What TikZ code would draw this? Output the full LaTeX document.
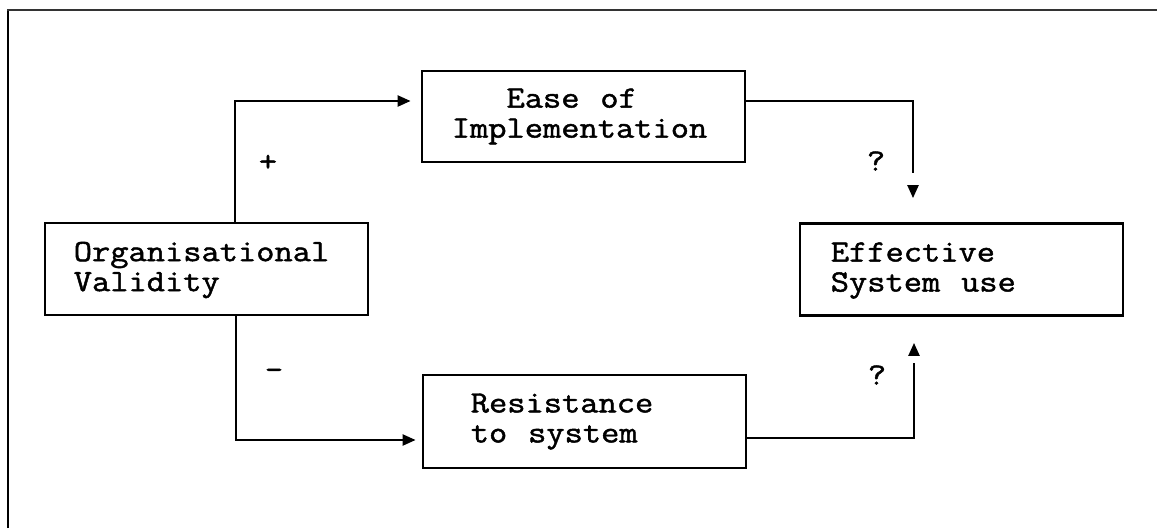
\documentclass[tikz,border=0pt]{standalone}
\usepackage{fontspec}
% typewriter face, widened to a Courier-like pitch
\newfontfamily\boxfont[FakeStretch=1.143, FakeBold=1.5, WordSpace={1.143,0,0}]{Latin Modern Mono}
\usetikzlibrary{arrows.meta}
\begin{document}
\begin{tikzpicture}[x=1pt,y=-1pt,
  box/.style={draw, line width=2.8pt, inner sep=0pt, minimum height=92pt, minimum width=323pt},
  txt/.style={anchor=west, inner sep=0pt, align=left, font=\boxfont\fontsize{31}{30}\selectfont},
  link/.style={line width=2.3pt},
  tip/.style={line width=2.3pt, -{Triangle[length=13pt,width=11pt]}},
  sign/.style={font=\boxfont\fontsize{31}{30}\selectfont, inner sep=0pt}]
\useasboundingbox (0,0) rectangle (1157,528);

% page frame
\draw[line width=2.6pt] (8,528) -- (8,9.5);
\draw[line width=2pt, black!80] (7,9.5) -- (1157,9.5);

% boxes
\node[box] (org) at (206.5,269) {};
\node[box, minimum height=91pt] (ease) at (583.5,116.5) {};
\node[box] (eff) at (961.5,269.5) {};
\node[box, minimum height=93pt] (res) at (584.5,421.5) {};

% box texts
\node[txt] (orgT) at ([xshift=30pt,yshift=-1pt]org.west) {Organisational\\Validity};
\node[txt] (easeT) at ([xshift=31pt]ease.west) {\phantom{Imp}Ease of\\Implementation};
\node[txt] (effT) at ([xshift=32pt,yshift=-1pt]eff.west) {Effective\\System use};
\node[txt] (resT) at ([xshift=49pt]res.west) {Resistance\\to system};

% links from organisational validity
\draw[tip] ([xshift=28.5pt]org.north) |- ([xshift=-10pt,yshift=15.5pt]ease.west);
\draw[tip] ([xshift=29.5pt]org.south) |- ([xshift=-6pt,yshift=-18.5pt]res.west);

% links into effective system use (head set apart from the line)
\coordinate (ta) at ([xshift=-48.5pt,yshift=24pt]eff.north);
\draw[link] ([yshift=15.5pt]ease.east) -| ([yshift=25pt]ta);
\draw[tip] ([yshift=13pt]ta) -- (ta);

\coordinate (tb) at ([xshift=-47.5pt,yshift=-26pt]eff.south);
\draw[link] ([yshift=-16.5pt]res.east) -| ([yshift=-20pt]tb);
\draw[tip] ([yshift=-13pt]tb) -- (tb);

% signs
\node[sign] (plus) at (268,163) {+};
\node[sign] (minus) at (274,374) {\textendash};
\node[sign] (qa) at (876,161) {?};
\node[sign] (qb) at (877,375) {?};
\end{tikzpicture}
\end{document}
